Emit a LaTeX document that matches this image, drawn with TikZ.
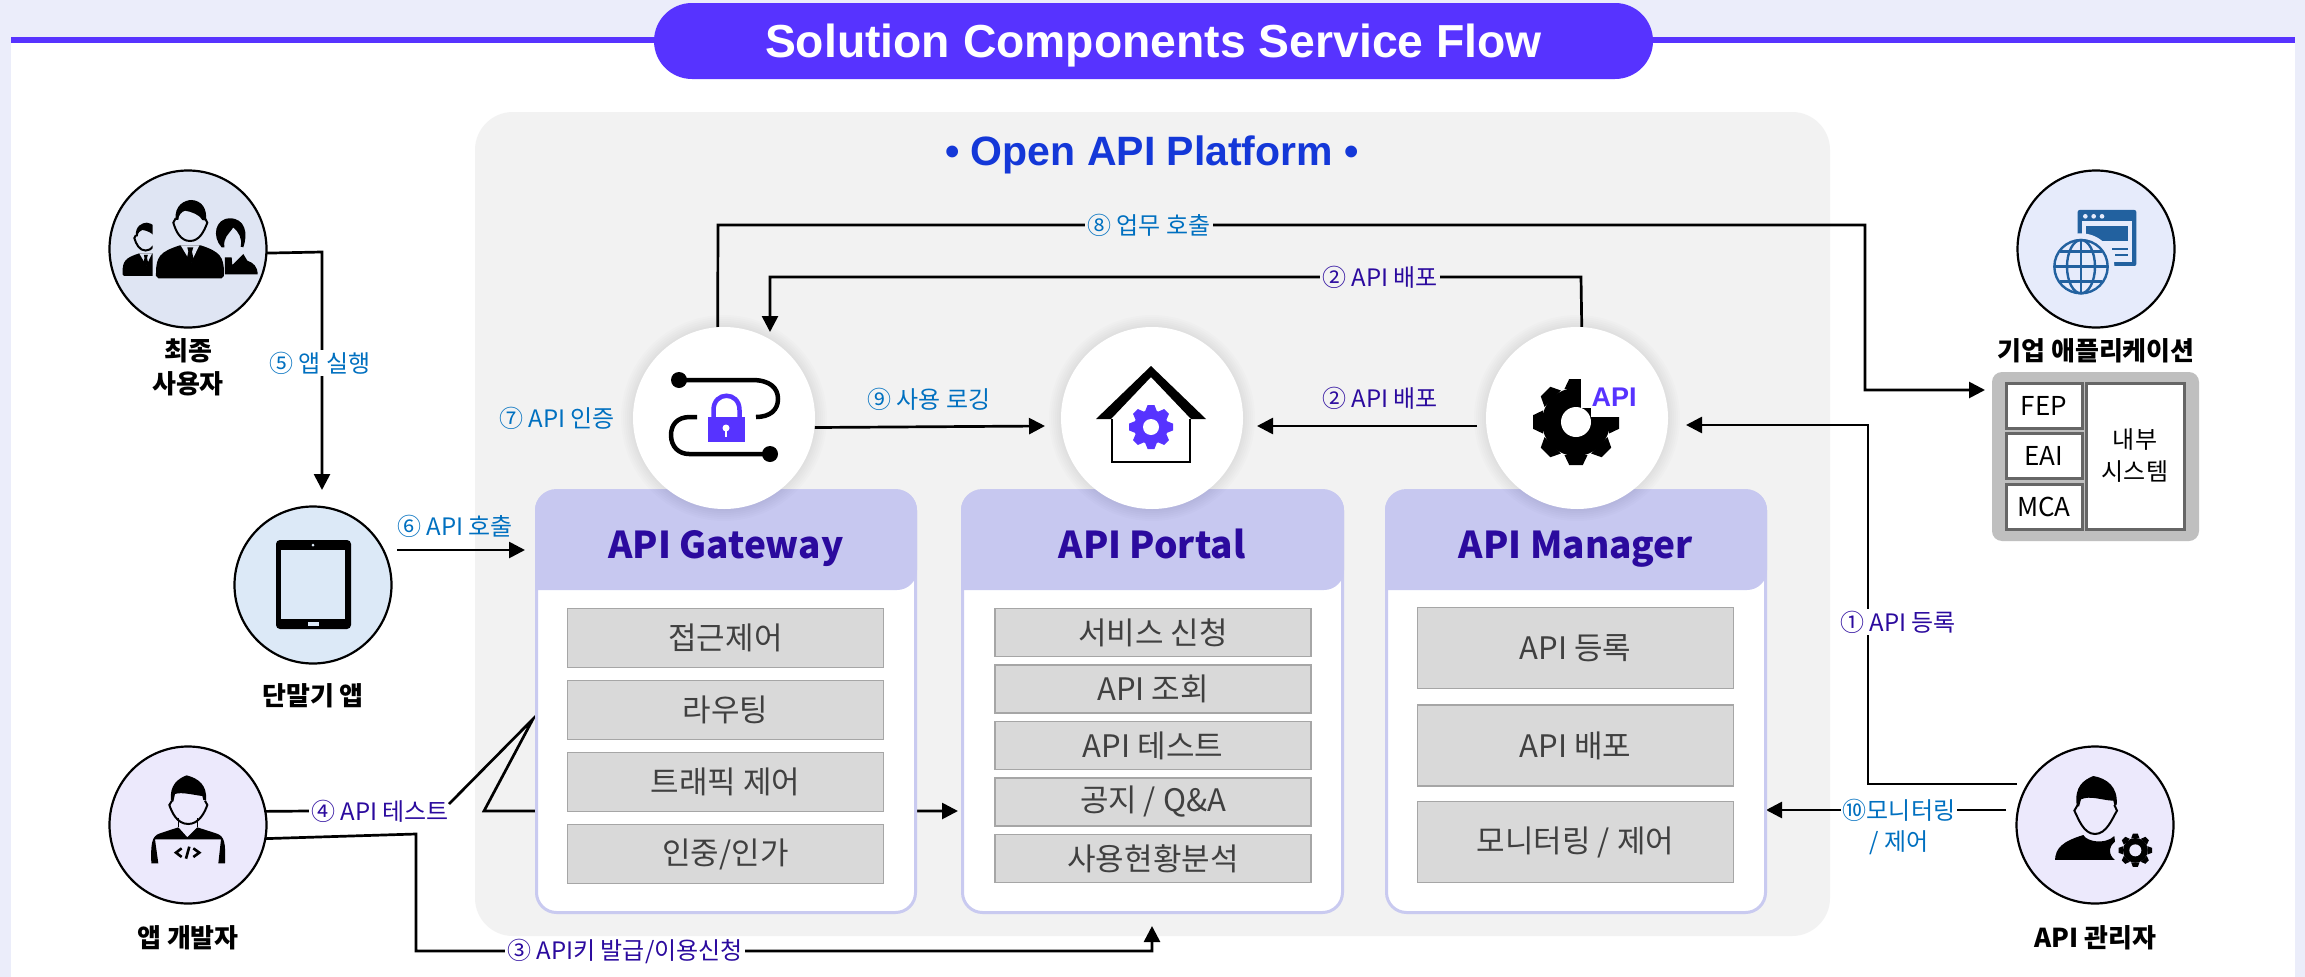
\documentclass[tikz,border=0pt]{standalone}
\usepackage{fontspec}
\setmainfont{Noto Sans CJK KR}
\newfontfamily\latinf{Liberation Sans}
\usetikzlibrary{arrows.meta,calc}
\definecolor{pageb}{HTML}{EBEDFA}
\definecolor{violetx}{HTML}{5733FF}
\definecolor{platg}{HTML}{F2F2F2}
\definecolor{panelb}{HTML}{C9CAF0}
\definecolor{headf}{HTML}{C7C8F0}
\definecolor{indigox}{HTML}{2B0A9E}
\definecolor{bluex}{HTML}{0070C0}
\definecolor{platb}{HTML}{1438D8}
\definecolor{itemf}{HTML}{D9D9D9}
\definecolor{itemb}{HTML}{A6A6A6}
\definecolor{globec}{HTML}{22619F}
\definecolor{usersf}{HTML}{DFE5F3}
\definecolor{tabf}{HTML}{DCE9F7}
\definecolor{devf}{HTML}{ECE9FC}
\definecolor{appf}{HTML}{E6EBFB}
\pgfdeclarelayer{bgl}\pgfdeclarelayer{conn}\pgfsetlayers{bgl,conn,main}
\newcommand{\fsz}[1]{\fontsize{#1pt}{#1pt}\selectfont}
\newcommand{\fszl}[2]{\fontsize{#1pt}{#2pt}\selectfont}
\tikzset{
 actor/.style={circle,draw=black,line width=2.2pt,minimum size=157pt,inner sep=0,outer sep=0},
 hub/.style={circle,fill=white,minimum size=182pt,inner sep=0,outer sep=0},
 panel/.style={draw=panelb,fill=white,line width=3pt,rounded corners=20pt,inner sep=0,outer sep=0,minimum height=422pt},
 itembox/.style={draw=itemb,fill=itemf,line width=1.5pt,minimum width=316pt,inner sep=0,outer sep=0,text=black!75,font=\fsz{31}},
 captxt/.style={font=\fszl{26}{33}\bfseries,text=black,inner sep=0,align=center},
 headt/.style={font=\fsz{37}\bfseries,text=indigox,inner sep=0,text height=27pt,text depth=0pt},
 blab/.style={font=\fsz{24},text=bluex,inner sep=2pt,align=center},
 ilab/.style={font=\fsz{24},text=indigox,inner sep=2pt,align=center},
 conline/.style={draw=black,line width=2.7pt},
 arr/.style={conline,-{Triangle[length=16pt,width=16pt]}},
 sysbox/.style={draw=black!60,fill=white,line width=3pt,inner sep=0,outer sep=0,font=\fsz{26},text=black,align=center},
}
\newcommand{\gearat}[7]{% cx cy rbody rout hole color holecolor
 \begin{scope}[shift={(#1,#2)}]
 \fill[#6] (0,0) circle (#3);
 \foreach \a in {0,45,...,315}{
  \fill[#6,rotate=\a] ({-0.34*#3},{-#3+1}) -- ({-0.2*#3},{-#4}) -- ({0.2*#3},{-#4}) -- ({0.34*#3},{-#3+1}) -- cycle;
 }
 \fill[#7] (0,0) circle (#5);
 \end{scope}}
\newcommand{\suitman}[1]{%
 \fill[black] (197,150) .. controls (192,105) and (225,90) .. (245,90) .. controls (275,92) and (292,115) .. (288,152) -- (277,150) .. controls (270,135) and (245,125) .. (225,122) .. controls (215,125) and (205,135) .. (205,150) -- cycle;
 \draw[black,line width=2pt] (197,145) -- (190,158) .. controls (198,185) and (212,213) .. (240,213) .. controls (268,213) and (282,185) .. (292,158) -- (285,145);
 \fill[black] (138,310) .. controls (138,260) and (150,245) .. (210,226) -- (272,226) .. controls (330,245) and (342,260) .. (342,310) -- (342,318) -- (335,325) -- (145,325) -- (138,318) -- cycle;
 \fill[#1] (212,226) -- (268,226) -- (243,278) -- cycle;
 \fill[black] (232,232) -- (250,232) -- (246,245) -- (252,272) -- (240,282) -- (229,272) -- (235,245) -- cycle;
}
\begin{document}
\begin{tikzpicture}[x=1pt,y=-1pt]
\useasboundingbox (0,0) rectangle (2305,977);
\begin{pgfonlayer}{bgl}
 \fill[pageb] (0,0) rectangle (2305,977);
 \fill[white] (11,37) rectangle (2295,977);
 \fill[violetx] (11,37) rectangle (2295,43);
 \fill[platg,rounded corners=38pt] (475,112) rectangle (1830,936);
\end{pgfonlayer}
% title
\node[fill=violetx,rounded corners=38pt,minimum width=999pt,minimum height=76pt,inner sep=0,outer sep=0,text=white,font=\latinf\fsz{46.3}\bfseries,text height=33pt,text depth=0pt] (pill) at (1153.5,41) {Solution Components Service Flow};
\node[font=\latinf\fsz{41}\bfseries,text=platb,inner sep=0,text height=29pt,text depth=0pt] (plat) at (1152,151) {• Open API Platform •};
% panels
\node[panel,minimum width=379pt] (gw) at (726,701.5) {};
\node[panel,minimum width=380pt] (po) at (1152.5,701.5) {};
\node[panel,minimum width=379pt] (ma) at (1576,701.5) {};
\fill[headf] (535,590) {[rounded corners=20pt] -- (535,490) -- (917,490) -- (917,590)} -- cycle;
\fill[headf] (961,590) {[rounded corners=20pt] -- (961,490) -- (1344,490) -- (1344,590)} -- cycle;
\fill[headf] (1385,590) {[rounded corners=20pt] -- (1385,490) -- (1767,490) -- (1767,590)} -- cycle;
\node[headt] (gwt) at (726,545) {API Gateway};
\node[headt] (pot) at (1152,545) {API Portal};
\node[headt] (mat) at (1576,545) {API Manager};
% items
\node[itembox,minimum height=59pt] (g1) at (725.5,638) {접근제어};
\node[itembox,minimum height=59pt] (g2) at (725.5,710) {라우팅};
\node[itembox,minimum height=59pt] (g3) at (725.5,782) {트래픽 제어};
\node[itembox,minimum height=59pt] (g4) at (725.5,854) {인중/인가};
\node[itembox,minimum height=48pt] (p1) at (1153,632.5) {서비스 신청};
\node[itembox,minimum height=48pt] (p2) at (1153,689) {API 조회};
\node[itembox,minimum height=48pt] (p3) at (1153,745.5) {API 테스트};
\node[itembox,minimum height=48pt] (p4) at (1153,802) {공지 / Q\&A};
\node[itembox,minimum height=48pt] (p5) at (1153,858.5) {사용현황분석};
\node[itembox,minimum height=81pt] (m1) at (1575.5,648) {API 등록};
\node[itembox,minimum height=81pt] (m2) at (1575.5,745.5) {API 배포};
\node[itembox,minimum height=81pt] (m3) at (1575.5,842) {모니터링 / 제어};
% hub shadows and hubs
\foreach \cx in {724,1152,1577}{
 \foreach \r in {103,101,...,92}{\fill[black,opacity=.012] (\cx,418) circle (\r);}
}
\node[hub] (gwc) at (724,418) {};
\node[hub] (poc) at (1152,418) {};
\node[hub] (mac) at (1577,418) {};
% lock icon
\draw[black,line width=4.5pt] (679,380) -- (752,380) .. controls (770,380) and (778,388) .. (778,399) .. controls (778,410) and (770,417) .. (756,417);
\draw[black,line width=4.5pt] (697,417) -- (690,417) .. controls (677,417) and (671,425) .. (671,435) .. controls (671,447) and (679,454) .. (689,454) -- (770,454);
\fill[black] (679,380) circle (8);
\fill[black] (770,454) circle (8);
\draw[violetx,line width=4.5pt] (713.5,418) -- (713.5,410) .. controls (713.5,391) and (739.5,391) .. (739.5,410) -- (739.5,418);
\fill[violetx] (708,417) rectangle (745,442);
\fill[white] (726,428) circle (3.5);
\fill[white] (724.8,428) rectangle (727.2,437);
% house icon
\draw[black,line width=2.5pt] (1112,419) -- (1112,462) -- (1190,462) -- (1190,419);
\fill[black] (1151,366) -- (1206,419) -- (1191,419) -- (1151,377) -- (1111,419) -- (1096,419) -- cycle;
\gearat{1151}{427}{17}{22}{8}{violetx}{white}
% API gear
\gearat{1576}{422}{34}{43}{15}{black}{white}
\fill[white] (1581,372) rectangle (1632,408);
\fill[white] (1591,405) rectangle (1632,417);
\node[font=\latinf\fsz{27}\bfseries,text=violetx,inner sep=0] (apit) at (1614,397) {API};
% actors
\node[actor,fill=usersf] (users) at (188,249) {};
\node[actor,fill=tabf] (tab) at (313,585) {};
\node[actor,fill=devf] (dev) at (188,825) {};
\node[actor,fill=devf] (adm) at (2095,825) {};
\node[actor,fill=appf] (app) at (2096,249) {};
\node[captxt] (cu) at (188,367) {최종\\사용자};
\node[captxt] (ct) at (313,696) {단말기 앱};
\node[captxt] (cd) at (188,938) {앱 개발자};
\node[captxt] (ca) at (2095,938) {API 관리자};
\node[captxt] (cp) at (2096,351) {기업 애플리케이션};
% users icon
\begin{scope}[shift={(110,170)},x=.3333pt,y=-.3333pt]
 \begin{scope}
  \clip (0,0) rectangle (128,400);
  \begin{scope}[shift={(107,158)},scale=.68,shift={(-240,-90)}]
   \suitman{usersf}
  \end{scope}
 \end{scope}
 \suitman{usersf}
 \fill[black] (335,232) .. controls (305,200) and (315,145) .. (360,145) .. controls (405,145) and (415,190) .. (400,232) -- (392,230) .. controls (398,205) and (385,185) .. (370,172) .. controls (355,195) and (340,200) .. (343,232) -- cycle;
 \fill[black] (345,313) -- (345,262) -- (365,262) -- (367,285) -- (400,252) -- (412,272) .. controls (430,278) and (443,290) .. (443,313) -- cycle;
\end{scope}
% tablet icon
\fill[black,rounded corners=4pt] (276,540) rectangle (351,629);
\fill[tabf] (281,550) rectangle (345,619);
\fill[tabf] (313,545) circle (1.5);
\fill[tabf] (307.5,622) rectangle (318.5,626);
% dev icon
\begin{scope}[shift={(110,750)},x=.3333pt,y=-.3333pt]
 \fill[black] (183,150) .. controls (178,105) and (205,85) .. (230,76) .. controls (265,85) and (292,105) .. (288,150) -- (280,150) -- (277,138) .. controls (250,135) and (215,125) .. (195,132) -- (190,155) -- cycle;
 \draw[black,line width=2pt] (186,152) -- (178,165) .. controls (185,185) and (200,222) .. (235,222) .. controls (268,222) and (285,185) .. (292,165) -- (285,152);
 \draw[black,line width=1.5pt] (205,205) -- (205,232) (262,205) -- (262,232);
 \fill[black] (205,232) -- (232,262) -- (262,232) -- (318,250) .. controls (345,258) and (347,280) .. (345,340) -- (325,340) -- (333,268) -- (135,268) -- (145,340) -- (124,340) .. controls (122,280) and (125,258) .. (150,250) -- cycle;
 \draw[black,line width=2.6pt] (215,295) -- (198,308) -- (215,321) (250,295) -- (268,308) -- (250,321) (238,290) -- (228,326);
\end{scope}
% admin icon
\begin{scope}[shift={(2015,750)},x=.3333pt,y=-.3333pt]
 \fill[black] (185,165) .. controls (178,110) and (205,90) .. (235,78) .. controls (275,85) and (310,110) .. (305,165) -- (298,165) -- (295,152) .. controls (265,152) and (225,135) .. (198,148) -- (192,170) -- cycle;
 \draw[black,line width=2pt] (188,165) -- (178,182) .. controls (190,205) and (205,252) .. (240,252) .. controls (275,252) and (292,205) .. (306,182) -- (298,165);
 \fill[black] (120,330) .. controls (122,295) and (140,275) .. (205,255) .. controls (215,275) and (270,285) .. (298,258) -- (300,275) .. controls (280,290) and (280,315) .. (300,330) -- cycle;
 \gearat{361}{301}{37}{50}{18}{black}{devf}
\end{scope}
% app icon
\begin{scope}[shift={(2015,170)},x=.3333pt,y=-.3333pt]
 \fill[globec,rounded corners=2pt] (188,120) rectangle (364,288);
 \fill[appf] (200,152) rectangle (352,276);
 \fill[globec] (213,168) rectangle (338,214);
 \fill[globec] (290,235) rectangle (338,241);
 \fill[globec] (300,252) rectangle (338,258);
 \foreach \dx in {211,236,261}{\fill[appf] (\dx,139) circle (7);}
 \fill[appf] (198,290) circle (100);
 \draw[globec,line width=2.4pt] (198,290) circle (80);
 \draw[globec,line width=2.4pt] (198,290) ellipse (42 and 80);
 \draw[globec,line width=2.4pt] (198,210) -- (198,370) (118,290) -- (278,290) (136,245) -- (260,245) (136,335) -- (260,335);
\end{scope}
% system box
\fill[black!25,rounded corners=10pt] (1992,372) rectangle (2199,541);
\node[sysbox,minimum width=76pt,minimum height=45pt] (fep) at (2044,405.5) {FEP};
\node[sysbox,minimum width=76pt,minimum height=45pt] (eai) at (2044,455.5) {EAI};
\node[sysbox,minimum width=76pt,minimum height=45pt] (mca) at (2044,506.5) {MCA};
\node[sysbox,minimum width=98pt,minimum height=146pt,font=\fszl{24}{32},text=black] (int) at (2135,456) {내부\\시스템};
% connectors
\begin{pgfonlayer}{conn}
 \coordinate (a1) at (322,252);
 \coordinate (a2) at (322,490);
 \draw[arr] (users.-3) -- (a1) -- (a2);
 \node[blab,fill=white] (l5) at (320,363) {⑤ 앱 실행};
 \coordinate (a3) at (397,550);
 \coordinate (a4) at (525,550);
 \draw[arr] (a3) -- (a4);
 \node[blab] (l6) at (455,526) {⑥ API 호출};
 % 4
 \node[ilab,fill=white] (l4) at (380,811) {④ API 테스트};
 \coordinate (a5) at (449,804);
 \coordinate (a6) at (533,719);
 \coordinate (a7) at (484,811);
 \coordinate (a8) at (958,811);
 \draw[conline] (dev.10) -- (l4.west);
 \draw[arr] (a5) -- (a6) -- (a7) -- (a8);
 % 3
 \coordinate (b1) at (416,834);
 \coordinate (b2) at (416,951);
 \coordinate (b3) at (1152,951);
 \coordinate (b4) at (1152,926);
 \draw[arr] (dev.-10) -- (b1) -- (b2) -- (b3) -- (b4);
 \node[ilab,fill=white] (l3) at (625,951) {③ API키 발급/이용신청};
 % 8
 \coordinate (c1) at (718,225);
 \coordinate (c2) at (1865,225);
 \coordinate (c3) at (1865,390);
 \coordinate (c4) at (1985,390);
 \draw[arr] (gwc.94) -- (c1) -- (c2) -- (c3) -- (c4);
 \node[blab,fill=platg] (l8) at (1149,225) {⑧ 업무 호출};
 % 2 upper
 \coordinate (d1) at (1581,277);
 \coordinate (d2) at (770,277);
 \coordinate (d3) at (770,332);
 \draw[arr] (mac.87) -- (d1) -- (d2) -- (d3);
 \node[ilab,fill=platg] (l2a) at (1380,277) {② API 배포};
 % 2 lower
 \coordinate (e1) at (1477,426);
 \coordinate (e2) at (1257,426);
 \draw[arr] (e1) -- (e2);
 \node[ilab] (l2b) at (1380,398) {② API 배포};
 % 9
 \coordinate (f1) at (1045,426);
 \draw[arr] (gwc.-6) -- (f1);
 \node[blab] (l9) at (929,399) {⑨ 사용 로깅};
 \node[blab] (l7) at (557,418) {⑦ API 인증};
 % 1
 \coordinate (g1a) at (2017,784);
 \coordinate (g1b) at (1868,784);
 \coordinate (g1c) at (1868,425);
 \coordinate (g1d) at (1686,425);
 \draw[arr] (g1a) -- (g1b) -- (g1c) -- (g1d);
 \node[ilab,fill=white] (l1) at (1898,622) {① API 등록};
 % 10
 \coordinate (h1) at (2006,810);
 \coordinate (h2) at (1766,810);
 \draw[arr] (h1) -- (h2);
 \node[blab,fill=white] (l10) at (1899,810) {⑩모니터링};
 \node[blab] (l10b) at (1899,843) {/ 제어};
\end{pgfonlayer}
\end{tikzpicture}
\end{document}
